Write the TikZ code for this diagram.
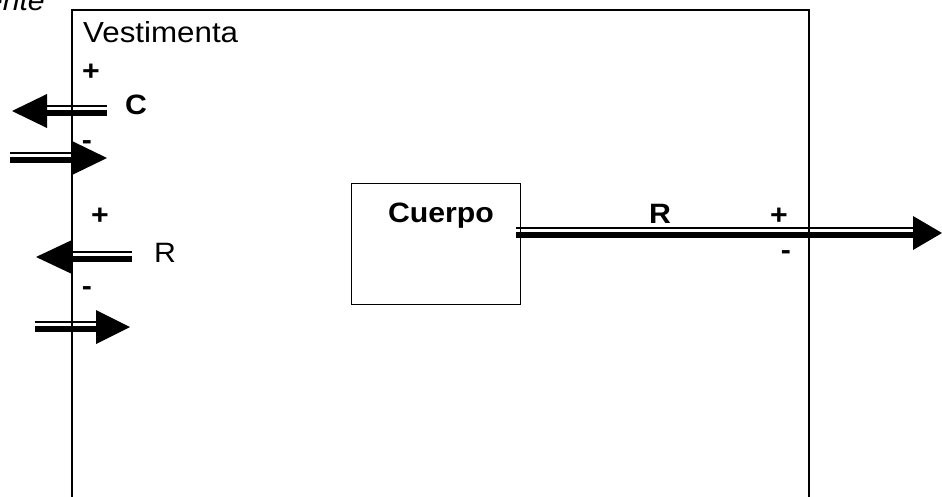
\documentclass[tikz,border=0pt]{standalone}
\usepackage{fontspec}
\setmainfont[FakeStretch=1.08]{Liberation Sans}
\newcommand\dblarrow[3]{%
  \draw[line width=1.8pt] ([yshift=5pt]#1) -- ([yshift=5pt]#2);
  \draw[line width=6.5pt] ([yshift=-2pt]#1) -- ([yshift=-2pt]#2);
  \fill ([yshift=17pt]#2) -- (#3) -- ([yshift=-17pt]#2) -- cycle;}
\begin{document}
\begin{tikzpicture}[x=1pt,y=-1pt,
  txt/.style={inner sep=0pt,anchor=base,font=\fontsize{28}{32}\selectfont},
  btxt/.style={txt,font=\fontsize{28}{32}\selectfont\bfseries}]
\useasboundingbox (0,0) rectangle (942,496);
\clip (0,0) rectangle (942,496);
\fill[white] (0,0) rectangle (942,496);
% outer box (Vestimenta)
\draw[line width=2pt] (72,520) -- (72,10) -- (809,10) -- (809,520);
\node[txt,anchor=base east,font=\fontsize{28}{32}\selectfont\itshape] (amb) at (45,10) {ente};
\node[txt,anchor=base west,font=\fontsize{29}{33}\selectfont] (vest) at (83,42) {Vestimenta};
% Cuerpo box
\node[draw,line width=1pt,minimum width=169pt,minimum height=121pt,inner sep=0pt] (cuerpo) at (435.5,243.5) {};
\node[btxt] (cuerpotxt) at (441,222) {Cuerpo};
% coordinates of arrows
\coordinate (a1t) at (107,111); \coordinate (a1b) at (47,111); \coordinate (a1h) at (12,111);
\coordinate (a2t) at (10,158);  \coordinate (a2b) at (72,158); \coordinate (a2h) at (107,158);
\coordinate (a3t) at (132,257); \coordinate (a3b) at (72,257); \coordinate (a3h) at (36,257);
\coordinate (a4t) at (35,327);  \coordinate (a4b) at (96,327); \coordinate (a4h) at (130,327);
\coordinate (a5t) at (516,233); \coordinate (a5b) at (913,233); \coordinate (a5h) at (942,233);
\dblarrow{a1t}{a1b}{a1h}
\dblarrow{a2t}{a2b}{a2h}
\dblarrow{a3t}{a3b}{a3h}
\dblarrow{a4t}{a4b}{a4h}
\dblarrow{a5t}{a5b}{a5h}
% labels
\node[btxt] (p1) at (91,80) {+};
\node[btxt] (c1) at (136,114) {C};
\node[btxt] (m1) at (87,149) {-};
\node[btxt] (p2) at (100,224) {+};
\node[txt] (r1) at (165,262) {R};
\node[btxt] (m2) at (87,295) {-};
\node[btxt] (r2) at (660,223) {R};
\node[btxt] (p3) at (779,224) {+};
\node[btxt] (m3) at (786,259) {-};
\end{tikzpicture}
\end{document}
